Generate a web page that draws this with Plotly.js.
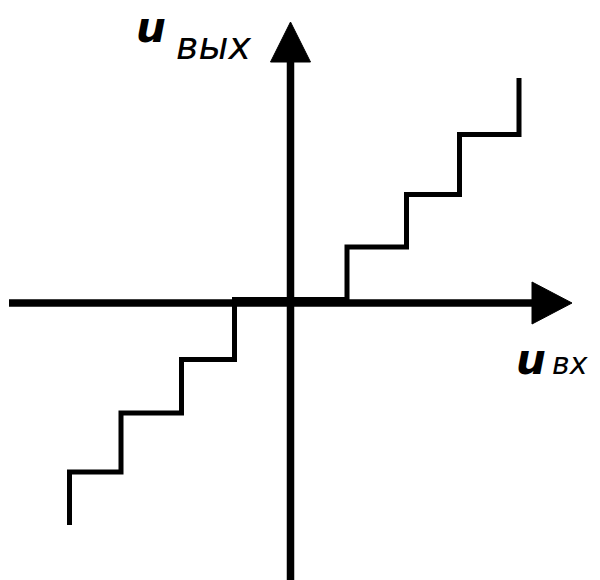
<!DOCTYPE html>
<html>
<head>
<meta charset="utf-8">
<script src="https://cdn.plot.ly/plotly-3.0.1.min.js"></script>
<style>html,body{margin:0;padding:0;background:#fff}</style>
</head>
<body>
<div id="chart" style="width:600px;height:580px"></div>
<script>
// staircase transfer characteristic (origin at axes cross)
const uIn = [-221, -169.5, -109, -56, 56.5, 116, 169, 228.5, 228.5]
const uOut = [-222, -169, -110, -56.5, 3.5, 56, 108.5, 168.5, 225]

// axes and arrow heads
const xAxisX = [-281.5, 242]
const xAxisY = [0, 0]
const yAxisX = [0, 0]
const yAxisY = [-280, 242]
const xArrowX = [241.5, 281.5, 241.5, 241.5]
const xArrowY = [21, 0, -21, 21]
const yArrowX = [-20, 0, 20, -20]
const yArrowY = [241, 281, 241, 241]

const black = 'rgb(0,0,0)'

const traces = [
  { x: xAxisX, y: xAxisY, mode: 'lines', line: { color: black, width: 7.5 } },
  { x: yAxisX, y: yAxisY, mode: 'lines', line: { color: black, width: 7.5 } },
  { x: xArrowX, y: xArrowY, mode: 'lines', fill: 'toself', fillcolor: black, line: { color: black, width: 1 } },
  { x: yArrowX, y: yArrowY, mode: 'lines', fill: 'toself', fillcolor: black, line: { color: black, width: 1 } },
  { x: uIn, y: uOut, mode: 'lines', line: { color: black, width: 5, shape: 'vh' } }
]

const big = { family: 'DejaVu Sans, sans-serif', size: 42, color: black }
const sub1 = { family: 'DejaVu Sans, sans-serif', size: 38, color: black }
const sub2 = { family: 'DejaVu Sans, sans-serif', size: 30, color: black }

const layout = {
  width: 600,
  height: 580,
  showlegend: false,
  margin: { l: 0, r: 0, t: 0, b: 0 },
  paper_bgcolor: 'white',
  plot_bgcolor: 'white',
  xaxis: { range: [-290.5, 309.5], visible: false, fixedrange: true },
  yaxis: { range: [-277, 303], visible: false, fixedrange: true },
  annotations: [
    { x: -139.5, y: 249.5, text: '<b><i>u</i></b>', showarrow: false, xanchor: 'center', yanchor: 'bottom', font: big },
    { x: -117, y: 233, text: '<i>вых</i>', showarrow: false, xanchor: 'left', yanchor: 'bottom', font: sub1 },
    { x: 240, y: -82.5, text: '<b><i>u</i></b>', showarrow: false, xanchor: 'center', yanchor: 'bottom', font: big },
    { x: 259.5, y: -79.5, text: '<i>вх</i>', showarrow: false, xanchor: 'left', yanchor: 'bottom', font: sub2 }
  ]
}

Plotly.newPlot('chart', traces, layout, { staticPlot: true })
</script>
</body>
</html>
